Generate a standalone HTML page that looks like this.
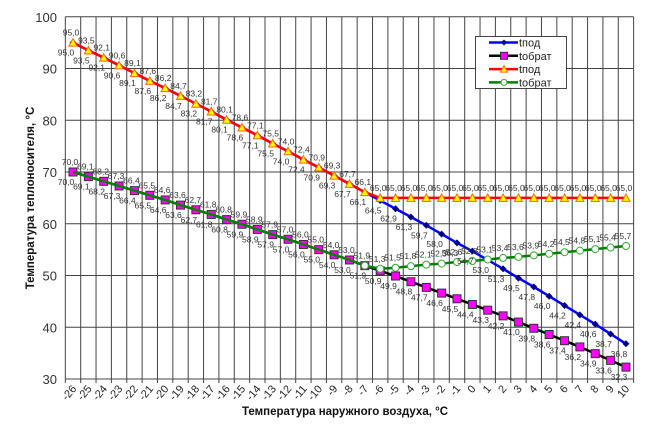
<!DOCTYPE html>
<html><head><meta charset="utf-8"><style>
html,body{margin:0;padding:0;background:#fff;}
svg{display:block;font-family:"Liberation Sans",Arial,sans-serif;}
</style></head><body>
<svg id="s" width="645" height="424" xmlns="http://www.w3.org/2000/svg"></svg>
<script>
const s=document.getElementById('s');
const X0=73,DX=15.36,Y30=379,SY=5.175;
const xp=i=>X0+i*DX, yp=v=>Y30-(v-30)*SY;
let h='';
// grid
for(let v=30;v<=100;v+=10){h+=`<line x1="65.3" x2="633.7" y1="${yp(v)}" y2="${yp(v)}" stroke="#444" stroke-width="1"/>`;
 h+=`<text x="57" y="${yp(v)+5}" font-size="13" text-anchor="end" fill="#333">${v}</text>`;}
for(let i=0;i<=37;i++){const x=X0-DX/2+i*DX;h+=`<line x1="${x}" x2="${x}" y1="${yp(100)}" y2="${Y30+4}" stroke="#444" stroke-width="1"/>`;}
for(let i=0;i<37;i++){const t=i-26;const x=xp(i);h+=`<text transform="translate(${x+4},${Y30+10}) rotate(-50)" font-size="11" text-anchor="end" fill="#222">${t}</text>`;}
const red=[95.0,93.5,92.1,90.6,89.1,87.6,86.2,84.7,83.2,81.7,80.1,78.6,77.1,75.5,74.0,72.4,70.9,69.3,67.7,66.1];
const blue=red.concat([64.5,62.9,61.3,59.7,58.0,56.3,54.7,53.0,51.3,49.5,47.8,46.0,44.2,42.4,40.6,38.7,36.8]);
const red2=red.concat(Array(17).fill(65.0));
const pink=[70.0,69.1,68.2,67.3,66.4,65.5,64.6,63.6,62.7,61.8,60.8,59.9,58.9,57.9,57.0,56.0,55.0,54.0,53.0,51.9];
const pinkA=pink.concat([50.9,49.9,48.8,47.7,46.6,45.5,44.4,43.3,42.2,41.0,39.8,38.6,37.4,36.2,34.9,33.6,32.3]);
const green=pink.concat([51.3,51.5,51.8,52.1,52.3,52.6,52.8,53.1,53.4,53.6,53.9,54.2,54.5,54.8,55.1,55.4,55.7]);
const pts=a=>a.map((v,i)=>xp(i)+','+yp(v)).join(' ');
const f=v=>v.toFixed(1).replace('.',',');
// lines
h+=`<polyline points="${pts(blue)}" fill="none" stroke="#0000ff" stroke-width="2.5"/>`;
blue.forEach((v,i)=>{const x=xp(i),y=yp(v);h+=`<path d="M${x-3.5},${y}L${x},${y-3.5}L${x+3.5},${y}L${x},${y+3.5}Z" fill="#000080"/>`;});
h+=`<polyline points="${pts(pinkA)}" fill="none" stroke="#000" stroke-width="2.5"/>`;
pinkA.forEach((v,i)=>{const x=xp(i),y=yp(v);h+=`<rect x="${x-4}" y="${y-4}" width="8" height="8" fill="#ff00ff" stroke="#333" stroke-width="1"/>`;});
h+=`<polyline points="${pts(red2)}" fill="none" stroke="#ff0000" stroke-width="2.5"/>`;
red2.forEach((v,i)=>{const x=xp(i),y=yp(v);h+=`<path d="M${x-4},${y+3.5}L${x},${y-4}L${x+4},${y+3.5}Z" fill="#ffff00" stroke="#ff6600" stroke-width="1"/>`;});
h+=`<polyline points="${pts(green)}" fill="none" stroke="#008000" stroke-width="2.5"/>`;
green.forEach((v,i)=>{if(i>=19){const x=xp(i),y=yp(v);h+=`<circle cx="${x}" cy="${y}" r="3.5" fill="#fff" stroke="#33aa33" stroke-width="1"/>`;}});
// labels
const lab=(x,y,t)=>{h+=`<text x="${x}" y="${y}" font-size="8.5" text-anchor="middle" fill="#333">${t}</text>`;};
red2.forEach((v,i)=>lab(xp(i)-2,yp(v)-7,f(v)));
blue.forEach((v,i)=>lab(xp(i)-7,yp(v)+13,f(v)));
green.forEach((v,i)=>lab(xp(i)-3,yp(v)-7,f(v)));
pinkA.forEach((v,i)=>lab(xp(i)-7,yp(v)+13,f(v)));
// legend
h+=`<rect x="475.5" y="36.5" width="91" height="52" fill="#fff" stroke="#444"/>`;
const L=[['#0000ff','d','tпод'],['#000','s','tобрат'],['#ff0000','t','tпод'],['#008000','c','tобрат']];
L.forEach((l,k)=>{const y=42.5+k*13.3;h+=`<line x1="489" x2="518" y1="${y}" y2="${y}" stroke="${l[0]}" stroke-width="2.5"/>`;
 const x=504;
 if(l[1]=='d')h+=`<path d="M${x-3},${y}L${x},${y-3}L${x+3},${y}L${x},${y+3}Z" fill="#000080"/>`;
 if(l[1]=='s')h+=`<rect x="${x-3.5}" y="${y-3.5}" width="7" height="7" fill="#ff00ff" stroke="#333"/>`;
 if(l[1]=='t')h+=`<path d="M${x-3.5},${y+3}L${x},${y-3.5}L${x+3.5},${y+3}Z" fill="#ffff00" stroke="#ff6600"/>`;
 if(l[1]=='c')h+=`<circle cx="${x}" cy="${y}" r="3" fill="#fff" stroke="#33aa33"/>`;
 h+=`<text x="519" y="${y+4}" font-size="11" fill="#222">${l[2]}</text>`;});
// titles
h+=`<text transform="translate(34,198) rotate(-90)" font-size="11.5" font-weight="bold" text-anchor="middle" fill="#111">Температура теплоносителя, °С</text>`;
h+=`<text x="345" y="415" font-size="11.5" font-weight="bold" text-anchor="middle" fill="#111">Температура наружного воздуха, °С</text>`;
s.innerHTML=h;
</script>
</body></html>
